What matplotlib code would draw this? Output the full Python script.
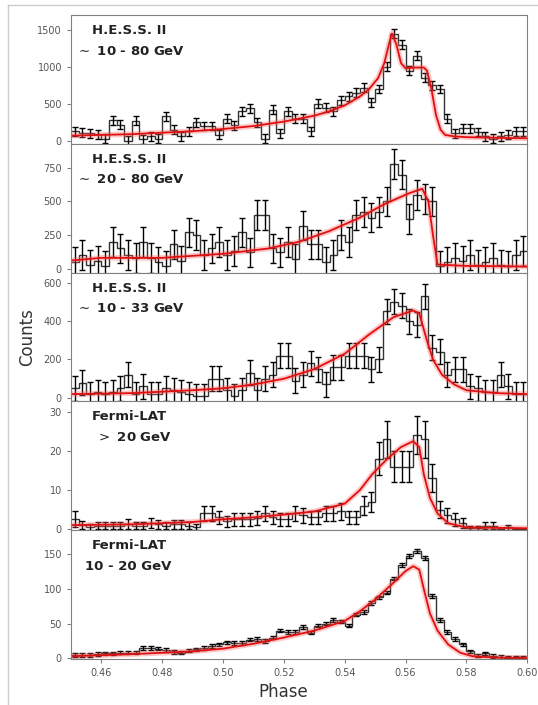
import matplotlib.pyplot as plt
from matplotlib.lines import Line2D
import numpy as np

# phase binning shared by all panels
bin_edges = np.linspace(0.45, 0.60, 61)
bin_centers = 0.5 * (bin_edges[:-1] + bin_edges[1:])

hess_10_80 = [130, 110, 100, 90, 30, 280, 220, 0, 270, 20,
              60, 30, 330, 150, 60, 130, 250, 200, 200, 80,
              300, 210, 400, 440, 250, 30, 420, 100, 400, 300,
              300, 130, 500, 450, 400, 550, 600, 650, 720, 520,
              700, 1000, 1450, 1300, 950, 1150, 850, 750, 700, 300,
              100, 170, 170, 120, 60, 30, 60, 80, 130, 130]
hess_10_80_err = 60

hess_20_80 = [50, 100, 30, 60, 20, 200, 150, 100, 80, 200,
              80, 50, 20, 180, 60, 270, 250, 100, 150, 200,
              100, 130, 270, 120, 400, 400, 150, 120, 200, 70,
              320, 180, 180, 50, 100, 250, 200, 400, 420, 380,
              420, 500, 780, 700, 370, 550, 520, 500, 20, 50,
              80, 60, 100, 30, 50, 80, 30, 20, 100, 130]
hess_20_80_err = 110

hess_10_33 = [50, 80, 20, 30, 20, 30, 50, 120, 20, 60,
              20, 20, 50, 40, 30, 20, 10, 10, 100, 100,
              40, 10, 40, 130, 40, 100, 120, 220, 220, 90,
              120, 180, 150, 70, 160, 160, 220, 220, 220, 150,
              200, 450, 500, 480, 400, 380, 530, 260, 240, 120,
              150, 150, 60, 50, 30, 30, 120, 60, 20, 20]
hess_10_33_err = 65

fermi_20 = [2.5, 1.0, 0.6, 0.8, 0.8, 0.8, 0.8, 1.3, 0.8, 0.8,
            1.5, 1.2, 0.8, 1.2, 1.2, 0.8, 0.5, 4.0, 4.0, 3.0,
            2.0, 2.5, 2.5, 2.5, 2.8, 4.0, 3.0, 2.5, 2.5, 4.0,
            3.5, 3.0, 3.0, 4.0, 4.0, 4.5, 3.0, 3.0, 6.0, 7.0,
            18, 23, 16, 16, 16, 24, 23, 13, 5, 3.5,
            2.5, 1.5, 0.3, 0.3, 0.8, 0.8, 0, 0.4, 0, 0]
fermi_20_err = [2, 1, 0.8, 0.9, 0.9, 0.9, 0.9, 1.2, 0.9, 0.9,
                1.2, 1.1, 0.9, 1.1, 1.1, 0.9, 0.7, 2, 2, 1.7,
                1.4, 1.6, 1.6, 1.6, 1.7, 2, 1.7, 1.6, 1.6, 2,
                1.9, 1.7, 1.7, 2, 2, 2.1, 1.7, 1.7, 2.4, 2.6,
                4.2, 4.8, 4, 4, 4, 4.9, 4.8, 3.6, 2.2, 1.9,
                1.6, 1.2, 0.5, 0.5, 0.9, 0.9, 0, 0.6, 0, 0]

fermi_10_20 = [5, 5, 5, 6, 7, 7, 8, 8, 8, 15,
               15, 14, 12, 9, 8, 11, 13, 15, 18, 20,
               23, 22, 22, 27, 28, 25, 30, 40, 38, 38,
               45, 37, 47, 50, 55, 53, 47, 63, 67, 80,
               88, 95, 115, 135, 148, 155, 145, 90, 55, 38,
               28, 20, 10, 4, 7, 3, 2, 1, 0.5, 0.5]
fermi_10_20_err = 2.5

# model curves (phase, counts)
m1_phase = [0.45, 0.47, 0.49, 0.50, 0.51, 0.52, 0.53, 0.535, 0.54, 0.545, 0.548, 0.551,
            0.553, 0.5545, 0.5555, 0.557, 0.5585, 0.560, 0.563, 0.566, 0.567, 0.5685,
            0.570, 0.5715, 0.573, 0.576, 0.58, 0.59, 0.60]
m1_counts = [70, 90, 130, 160, 200, 260, 340, 400, 480, 600, 700, 850,
             1050, 1300, 1450, 1300, 1050, 980, 990, 990, 950, 700,
             350, 150, 80, 60, 50, 40, 35]

m2_phase = [0.45, 0.46, 0.48, 0.50, 0.515, 0.525, 0.535, 0.545, 0.553, 0.561, 0.5655,
            0.5675, 0.569, 0.5705, 0.58, 0.60]
m2_counts = [60, 80, 80, 110, 150, 200, 280, 380, 480, 560, 595, 500, 250, 30, 20, 15]

m3_phase = [0.45, 0.47, 0.49, 0.50, 0.51, 0.52, 0.53, 0.54, 0.548, 0.556, 0.5625, 0.5645,
            0.567, 0.569, 0.572, 0.576, 0.58, 0.59, 0.60]
m3_counts = [20, 25, 40, 50, 70, 100, 150, 230, 330, 420, 455, 440,
             300, 200, 120, 70, 40, 25, 20]

m4_phase = [0.45, 0.47, 0.49, 0.50, 0.51, 0.52, 0.53, 0.54, 0.545, 0.549, 0.554, 0.5585,
            0.5625, 0.5645, 0.566, 0.568, 0.5705, 0.574, 0.58, 0.60]
m4_counts = [1, 1.2, 1.8, 2.5, 3, 3.7, 4.5, 6.5, 10, 14, 18, 21,
             22.5, 21, 14, 8, 4, 1.5, 0.4, 0.2]

m5_phase = [0.45, 0.47, 0.48, 0.49, 0.50, 0.51, 0.52, 0.53, 0.54, 0.545, 0.55, 0.555,
            0.56, 0.5625, 0.5645, 0.566, 0.568, 0.5705, 0.574, 0.578, 0.582, 0.59, 0.60]
m5_counts = [3, 6, 8, 10, 14, 21, 30, 40, 54, 68, 85, 105,
             126, 133, 128, 100, 65, 40, 20, 8, 3, 1, 0.5]

labels = [("H.E.S.S. II", r"$\sim$ 10 - 80 GeV"),
          ("H.E.S.S. II", r"$\sim$ 20 - 80 GeV"),
          ("H.E.S.S. II", r"$\sim$ 10 - 33 GeV"),
          ("Fermi-LAT", r"$>$ 20 GeV"),
          ("Fermi-LAT", "10 - 20 GeV")]
panels = [(hess_10_80, hess_10_80_err, m1_phase, m1_counts, (-40, 1700), [0, 500, 1000, 1500]),
          (hess_20_80, hess_20_80_err, m2_phase, m2_counts, (-30, 930), [0, 250, 500, 750]),
          (hess_10_33, hess_10_33_err, m3_phase, m3_counts, (-18, 652), [0, 200, 400, 600]),
          (fermi_20, fermi_20_err, m4_phase, m4_counts, (-0.3, 32.7), [0, 10, 20, 30]),
          (fermi_10_20, fermi_10_20_err, m5_phase, m5_counts, (-1, 185), [0, 50, 100, 150])]

fig = plt.figure(figsize=(5.38, 7.05), dpi=100)
top, bottom = 1 - 15 / 705, 1 - 659 / 705
h = (top - bottom) / 5
for i, (counts, err, mph, mct, ylim, yt) in enumerate(panels):
    ax = fig.add_axes([0.132, top - (i + 1) * h, 0.848, h])
    ax.stairs(counts, bin_edges, baseline=None, color='#333333', lw=1.0)
    ax.errorbar(bin_centers, counts, yerr=err, fmt='none', ecolor='black',
                elinewidth=1.0, capsize=2, capthick=1.0)
    ax.plot(mph, mct, color='#ff6060', lw=4, alpha=0.35)
    ax.plot(mph, mct, color='#e01010', lw=1.3)
    ax.set_xlim(0.45, 0.60)
    ax.set_ylim(*ylim)
    ax.set_yticks(yt)
    for s in ax.spines.values():
        s.set_color('#808080')
    ax.tick_params(axis='y', direction='out', length=3, labelsize=7, colors='#808080',
                   labelcolor='#555555')
    if i < 4:
        ax.tick_params(axis='x', bottom=False, labelbottom=False)
    else:
        ax.set_xticks([0.46, 0.48, 0.50, 0.52, 0.54, 0.56, 0.58, 0.60])
        ax.tick_params(axis='x', direction='out', length=3, labelsize=7, colors='#808080',
                       labelcolor='#555555')
        ax.set_xlabel("Phase", fontsize=12, color='#333333')
        ax.xaxis.set_label_coords(0.465, -0.19)
    ax.text(0.045, 0.88, labels[i][0], transform=ax.transAxes, fontsize=9.5,
            fontweight='bold', color='#222222', va='center')
    x2 = 0.01 if i < 3 else (0.055 if i == 3 else 0.03)
    ax.text(x2, 0.72, labels[i][1], transform=ax.transAxes, fontsize=9.5,
            fontweight='bold', color='#222222', va='center')

fig.text(0.05, 1 - 337 / 705, "Counts", rotation=90, fontsize=12, color='#333333',
         ha='center', va='center')

# light frame around the figure
fig.add_artist(Line2D([8 / 538, 1], [1 - 5 / 705, 1 - 5 / 705], color='#cccccc', lw=1))
fig.add_artist(Line2D([8 / 538, 8 / 538], [0, 1 - 5 / 705], color='#cccccc', lw=1))

fig.savefig("out.png", dpi=100)
